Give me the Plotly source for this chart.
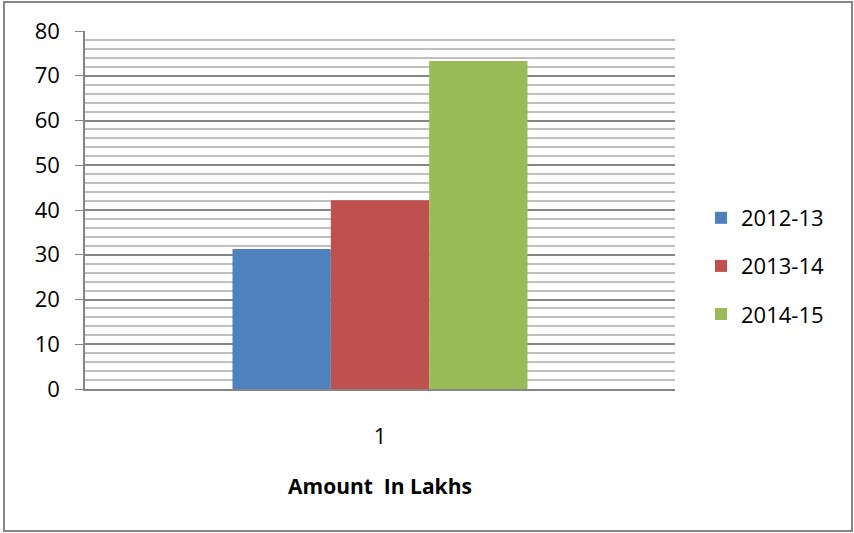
import plotly.graph_objects as go

categories = ["1"]
series_names = ["2012-13", "2013-14", "2014-15"]
series_values = [[31.3], [42.2], [73.3]]
colors = ["#4F81BD", "#C0504D", "#9BBB59"]
y_ticks = [0, 10, 20, 30, 40, 50, 60, 70, 80]

FONT = "Open Sans"
FS = 22

fig = go.Figure()
for name, vals, col in zip(series_names, series_values, colors):
    fig.add_trace(go.Bar(x=categories, y=vals, name=name, marker_color=col,
                         marker_line_width=0, legendgroup=name))

W, H = 854, 533
L, R, T, B = 85, 179, 31, 144
pw, ph = W - L - R, H - T - B

def px_x(x):
    return (x - L) / pw

def px_y(y):
    return (H - B - y) / ph

fig.update_layout(
    width=W, height=H,
    margin=dict(l=L, r=R, t=T, b=B, pad=0),
    paper_bgcolor="white", plot_bgcolor="white",
    barmode="group", bargap=0.5, bargroupgap=0,
    font=dict(family=FONT, size=FS, color="black"),
    showlegend=True,
    legend=dict(x=px_x(701), y=px_y(197), xanchor="left", yanchor="top",
                traceorder="grouped", tracegroupgap=16.5,
                font=dict(family=FONT, size=FS, color="black"),
                itemwidth=30,
                bgcolor="rgba(0,0,0,0)"),
    xaxis=dict(type="category", showline=True, linecolor="#868686", linewidth=1.5,
               ticks="", showgrid=False, tickfont=dict(size=FS), ticklabelstandoff=27,
               title=dict(text="<b>Amount  In Lakhs</b>", font=dict(size=21), standoff=30)),
    yaxis=dict(range=[0, 80], tickvals=y_ticks, showline=True, linecolor="#868686",
               linewidth=1.5, ticks="outside", ticklen=8, tickcolor="#868686",
               showgrid=True, gridcolor="#868686", gridwidth=1.5, zeroline=False,
               tickfont=dict(size=FS), ticklabelstandoff=11,
               minor=dict(dtick=2, showgrid=True, gridcolor="#BFBFBF", gridwidth=1.5, ticks="")),
    shapes=[dict(type="rect", xref="paper", yref="paper",
                 x0=px_x(4), x1=px_x(852), y0=px_y(531), y1=px_y(2),
                 line=dict(color="#868686", width=2), fillcolor="rgba(0,0,0,0)", layer="below")],
)

fig.write_html("out.html", config={"displayModeBar": False},
               post_script="document.body.style.margin='0';document.body.style.overflow='hidden';")
